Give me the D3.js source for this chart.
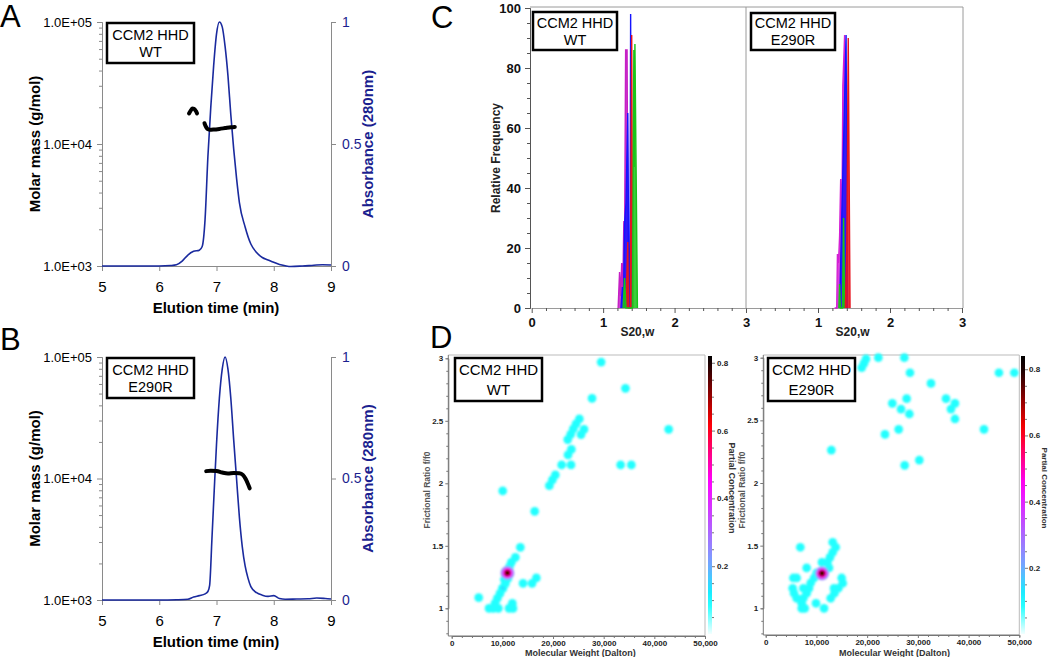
<!DOCTYPE html>
<html>
<head>
<meta charset="utf-8">
<script src="https://cdn.jsdelivr.net/npm/d3@7"></script>
<style>
  body { margin: 0; background: #fff; }
  svg { display: block; font-family: "Liberation Sans", Arial, sans-serif; }
</style>
</head>
<body>
<svg id="fig" width="1050" height="657"></svg>
<script>
// ---- panel A / B : SEC-MALS ----
const elutionTicks = [5, 6, 7, 8, 9];
const massTicks = [1e3, 1e4, 1e5];
const absTicks = [0, 0.5, 1];

// [time (min), absorbance]
const wtAbs = [[5,0],[5.5,0],[6,0],[6.2,0.002],[6.3,0.005],[6.4,0.02],[6.5,0.045],[6.6,0.06],[6.7,0.065],
  [6.75,0.08],[6.8,0.19],[6.85,0.45],[6.9,0.65],[6.95,0.82],[7.0,0.95],[7.05,1.0],[7.1,0.98],[7.15,0.9],
  [7.2,0.78],[7.25,0.62],[7.3,0.48],[7.35,0.36],[7.4,0.26],[7.5,0.16],[7.6,0.09],[7.7,0.055],[7.8,0.035],
  [7.9,0.025],[8.0,0.015],[8.1,0.006],[8.2,0.001],[8.3,-0.002],[8.5,0],[8.7,0.003],[8.85,0.005],[9,0.004]];
// [time (min), molar mass (g/mol)]
const wtMassA = [[6.52,17800],[6.55,18800],[6.58,19500],[6.61,19400],[6.64,18600],[6.66,17800]];
const wtMassB = [[6.79,14800],[6.81,14000],[6.84,13300],[6.88,13100],[6.95,13150],[7.05,13300],
  [7.15,13500],[7.25,13700],[7.32,13800]];

const mutAbs = [[5,0],[5.5,0],[6,0],[6.3,0.001],[6.5,0.003],[6.6,0.012],[6.7,0.018],[6.8,0.025],[6.85,0.035],
  [6.88,0.06],[6.92,0.25],[6.96,0.45],[7.0,0.64],[7.05,0.83],[7.1,0.95],[7.15,1.0],[7.2,0.95],[7.25,0.83],
  [7.3,0.66],[7.35,0.5],[7.4,0.34],[7.45,0.22],[7.5,0.14],[7.55,0.09],[7.6,0.055],[7.7,0.03],[7.8,0.02],
  [7.9,0.015],[8.0,0.018],[8.1,0.006],[8.2,0.003],[8.4,0.004],[8.6,0.005],[8.75,0.008],[8.9,0.006],[9,0.004]];
const mutMass = [[6.82,11500],[6.9,11600],[7.0,11550],[7.1,11200],[7.2,11000],[7.3,11100],[7.4,11050],
  [7.46,10700],[7.51,9900],[7.55,9000],[7.58,8300]];

// ---- panel C : sedimentation coefficient distributions ----
const freqTicks = [0, 20, 40, 60, 80, 100];
const sTicks = [0, 1, 2, 3];
// [s20,w, relative frequency]
const wtMagenta = [[1.21,0],[1.23,12],[1.245,4],[1.26,15],[1.275,6],[1.29,29],[1.30,20],[1.315,86],[1.335,86],[1.35,0]];
const wtBlue = [[1.25,0],[1.27,7],[1.285,3],[1.30,28],[1.32,35],[1.345,65],[1.36,10],[1.375,0],[1.385,98],[1.395,0]];
const wtRed = [[1.32,0],[1.345,22],[1.355,0],[1.38,0],[1.40,91],[1.415,0]];
const wtGreen = [[1.28,0],[1.30,10],[1.32,0],[1.41,0],[1.43,86],[1.435,47],[1.445,88],[1.48,0]];
const mutMagenta = [[1.23,0],[1.26,0],[1.27,18],[1.285,15],[1.30,24],[1.315,43],[1.33,20],[1.345,74],[1.37,91],[1.385,0]];
const mutBlue = [[1.30,0],[1.32,20],[1.345,45],[1.36,60],[1.39,91],[1.40,45],[1.41,0]];
const mutRed = [[1.38,0],[1.40,20],[1.42,90],[1.445,0]];
const mutGreen = [[1.29,0],[1.30,8],[1.31,0],[1.34,0],[1.355,30],[1.37,0]];

// ---- panel D : 2DSA solutes ----
const mwTicks = [0, 10000, 20000, 30000, 40000, 50000];
const ffTicks = [1, 1.5, 2, 2.5, 3];
const concTicks = [0.2, 0.4, 0.6, 0.8];
// [molecular weight, f/f0, partial concentration]
const wtSolutes = [[29500,2.97,0.05],[34300,2.76,0.05],[27700,2.68,0.05],[25200,2.515,0.05],[24540,2.475,0.05],
  [24000,2.435,0.05],[23490,2.392,0.05],[22900,2.35,0.05],[26120,2.432,0.05],[25530,2.39,0.05],[42830,2.432,0.05],
  [23620,2.272,0.05],[22960,2.227,0.05],[21710,2.147,0.05],[23550,2.147,0.05],[33350,2.147,0.05],[35460,2.147,0.05],
  [20460,2.067,0.05],[19870,2.027,0.05],[19280,1.981,0.05],[10070,1.939,0.05],[16380,1.776,0.05],[13550,1.488,0.05],
  [12570,1.408,0.05],[11780,1.368,0.06],[11380,1.331,0.07],[10590,1.197,0.06],[10070,1.16,0.15],[9540,1.12,0.05],
  [9010,1.08,0.05],[8550,1.04,0.05],[5330,1.085,0.05],[7370,1.0,0.05],[8220,1.0,0.05],[9210,1.0,0.05],
  [11320,1.0,0.05],[12100,1.0,0.05],[11970,1.04,0.05],[14080,1.2,0.05],[15860,1.2,0.05],[16710,1.243,0.05],
  [11100,1.24,0.06],[10400,1.23,0.06],[11000,1.283,0.82]];
const mutSolutes = [[18920,2.92,0.05],[19380,2.955,0.05],[19780,2.99,0.05],[22210,3.0,0.05],[27330,3.0,0.05],
  [28450,2.88,0.05],[32590,2.795,0.05],[45990,2.88,0.05],[49020,2.88,0.05],[24970,2.636,0.05],[26680,2.59,0.05],
  [27790,2.673,0.05],[28320,2.551,0.05],[35550,2.673,0.05],[36530,2.59,0.05],[37320,2.636,0.05],[37320,2.511,0.05],
  [26220,2.428,0.05],[23520,2.388,0.05],[43040,2.428,0.05],[12940,2.263,0.05],[30290,2.183,0.05],[27400,2.141,0.05],
  [13210,1.527,0.05],[13800,1.487,0.05],[6830,1.487,0.05],[13210,1.447,0.05],[12680,1.407,0.05],[12160,1.367,0.05],
  [11100,1.367,0.05],[8080,1.322,0.05],[12480,1.322,0.05],[10050,1.282,0.06],[9530,1.242,0.05],[8870,1.202,0.05],
  [5450,1.242,0.05],[6110,1.242,0.05],[8540,1.16,0.05],[7420,1.16,0.05],[5320,1.16,0.05],[8080,1.12,0.05],
  [7420,1.08,0.05],[7100,1.04,0.05],[7100,1.0,0.05],[7690,1.0,0.05],[6110,1.08,0.05],[5590,1.12,0.05],
  [9920,1.04,0.05],[11500,1.0,0.05],[12810,1.08,0.05],[13470,1.16,0.05],[14320,1.16,0.05],[14980,1.242,0.05],
  [15180,1.2,0.05],[13540,1.12,0.05],[11100,1.279,0.84]];

const svg = d3.select("#fig");
const FONT = '"Liberation Sans", Arial, sans-serif';
const NAVY = "#1b1f8f";
const AXIS_GREY = "#8a8a8a";

function styleAxis(g, lineColor, textColor, size, weight) {
  g.attr("font-family", FONT);
  g.select(".domain").attr("stroke", lineColor);
  g.selectAll(".tick line").attr("stroke", lineColor);
  g.selectAll(".tick text").attr("fill", textColor).style("font-size", size + "px").style("font-weight", weight);
}

function labelBox(x, y, w, h, lines, size, lead) {
  svg.append("rect").attr("x", x).attr("y", y).attr("width", w).attr("height", h)
    .attr("fill", "#fff").attr("stroke", "#000").attr("stroke-width", 2.5);
  lines.forEach((t, i) => {
    svg.append("text").attr("x", x + w / 2).attr("y", y + h / 2 + (i - (lines.length - 1) / 2) * size * lead + size * 0.36)
      .attr("text-anchor", "middle").style("font-size", size + "px").text(t);
  });
}

function panelLetter(t, x, y) {
  svg.append("text").attr("x", x).attr("y", y).style("font-size", "31px").text(t);
}

// ---------- SEC panels ----------
function secPanel(top, bottom, absData, massData, lines) {
  const x = d3.scaleLinear().domain([5, 9]).range([102, 331]);
  const yM = d3.scaleLog().domain([1e3, 1e5]).range([bottom, top]);
  const yA = d3.scaleLinear().domain([0, 1]).range([bottom, top]);

  const minor = [];
  [1e3, 1e4].forEach(d => { for (let k = 2; k <= 9; k++) minor.push(d * k); });
  svg.append("g").attr("transform", "translate(102,0)")
    .call(d3.axisLeft(yM).tickValues(minor).tickSize(3).tickFormat(""))
    .call(g => styleAxis(g, AXIS_GREY, "#000", 13, "normal"));

  const gl = svg.append("g").attr("transform", "translate(102,0)")
    .call(d3.axisLeft(yM).tickValues(massTicks).tickSize(5).tickSizeOuter(0).tickPadding(5)
      .tickFormat(d => "1.0E+" + String(Math.round(Math.log10(d))).padStart(2, "0")));
  styleAxis(gl, AXIS_GREY, "#000", 13, "normal");

  const gr = svg.append("g").attr("transform", "translate(331,0)")
    .call(d3.axisRight(yA).tickValues(absTicks).tickSize(5).tickSizeOuter(0).tickPadding(6).tickFormat(d3.format("")));
  styleAxis(gr, AXIS_GREY, NAVY, 14, "normal");

  const gb = svg.append("g").attr("transform", `translate(0,${bottom})`)
    .call(d3.axisBottom(x).tickValues(elutionTicks).tickSize(5).tickSizeOuter(0).tickPadding(10).tickFormat(d3.format("d")));
  styleAxis(gb, AXIS_GREY, "#000", 15, "normal");

  svg.append("path").datum(absData)
    .attr("fill", "none").attr("stroke", "#1a2a9e").attr("stroke-width", 1.6)
    .attr("d", d3.line().x(d => x(d[0])).y(d => yA(d[1])).curve(d3.curveMonotoneX));

  massData.forEach(seg => {
    svg.append("path").datum(seg)
      .attr("fill", "none").attr("stroke", "#000").attr("stroke-width", 4).attr("stroke-linecap", "round")
      .attr("d", d3.line().x(d => x(d[0])).y(d => yM(d[1])).curve(d3.curveMonotoneX));
  });

  const mid = (top + bottom) / 2;
  svg.append("text").attr("transform", `translate(40,${mid}) rotate(-90)`).attr("text-anchor", "middle")
    .style("font-size", "15px").style("font-weight", "bold").text("Molar mass (g/mol)");
  svg.append("text").attr("transform", `translate(373,${mid}) rotate(-90)`).attr("text-anchor", "middle")
    .attr("fill", NAVY).style("font-size", "15px").style("font-weight", "bold").text("Absorbance (280nm)");
  svg.append("text").attr("x", 216).attr("y", bottom + 47).attr("text-anchor", "middle")
    .style("font-size", "15px").style("font-weight", "bold").text("Elution time (min)");

  labelBox(107, top + 1, 87, 40, lines, 14.5, 1.15);
}

panelLetter("A", 0, 27);
secPanel(22, 266, wtAbs, [wtMassA, wtMassB], ["CCM2 HHD", "WT"]);
panelLetter("B", 0, 350);
secPanel(357, 600, mutAbs, [mutMass], ["CCM2 HHD", "E290R"]);

// ---------- panel C ----------
panelLetter("C", 431, 28);
(function () {
  const y = d3.scaleLinear().domain([0, 100]).range([308, 8]);
  const xL = d3.scaleLinear().domain([0, 3]).range([531.7, 746]);
  const xR = d3.scaleLinear().domain([0, 3]).range([746, 962]);
  const FRAME = "#9a9a9a";

  // frame
  svg.append("line").attr("x1", 530).attr("x2", 963).attr("y1", 7).attr("y2", 7).attr("stroke", FRAME);
  svg.append("line").attr("x1", 963).attr("x2", 963).attr("y1", 7).attr("y2", 308).attr("stroke", FRAME);
  svg.append("line").attr("x1", 746).attr("x2", 746).attr("y1", 7).attr("y2", 308).attr("stroke", FRAME);

  const minorS = d3.range(0, 3.001, 0.2).filter(d => Math.abs(d - Math.round(d)) > 0.01);
  [xL, xR].forEach((x, i) => {
    svg.append("g").attr("transform", "translate(0,308)")
      .call(d3.axisBottom(x).tickValues(minorS).tickSize(3).tickSizeOuter(0).tickFormat(""))
      .call(g => { styleAxis(g, "#555", "#000", 12, "bold"); g.select(".domain").attr("stroke", FRAME); });
    svg.append("g").attr("transform", "translate(0,308)")
      .call(d3.axisBottom(x).tickValues(i === 0 ? sTicks : sTicks.slice(1)).tickSize(5).tickSizeOuter(0).tickPadding(5).tickFormat(d3.format("d")))
      .call(g => { styleAxis(g, "#555", "#111", 13, "bold"); g.select(".domain").remove(); });
    svg.append("text").attr("x", x(1.48)).attr("y", 336).attr("text-anchor", "middle")
      .style("font-size", "12px").style("font-weight", "bold").attr("fill", "#222").text("S20,w");
  });

  svg.append("g").attr("transform", "translate(530,0)")
    .call(d3.axisLeft(y).tickValues(d3.range(0, 101, 5).filter(d => d % 20)).tickSize(3).tickFormat(""))
    .call(g => styleAxis(g, "#555", "#000", 12, "bold"));
  svg.append("g").attr("transform", "translate(530,0)")
    .call(d3.axisLeft(y).tickValues(freqTicks).tickSize(5).tickSizeOuter(0).tickPadding(4))
    .call(g => styleAxis(g, "#555", "#111", 13, "bold"));
  svg.append("text").attr("transform", "translate(500,158) rotate(-90)").attr("text-anchor", "middle")
    .style("font-size", "12px").style("font-weight", "bold").attr("fill", "#222").text("Relative Frequency");

  const series = [
    [xL, wtMagenta, "#c51fc5"], [xL, wtBlue, "#1414ff"], [xL, wtRed, "#e8141e"], [xL, wtGreen, "#19c419"],
    [xR, mutMagenta, "#d41fd4"], [xR, mutBlue, "#1414ff"], [xR, mutGreen, "#19c419"], [xR, mutRed, "#e8141e"]
  ];
  series.forEach(([x, data, col]) => {
    svg.append("path").datum(data)
      .attr("fill", col).attr("fill-opacity", 0.85).attr("stroke", col).attr("stroke-width", 1.4)
      .attr("d", d3.line().x(d => x(d[0])).y(d => y(d[1])));
  });

  labelBox(533, 12, 84, 38, ["CCM2 HHD", "WT"], 14.5, 1.15);
  labelBox(751, 13, 84, 37, ["CCM2 HHD", "E290R"], 14.5, 1.15);
})();

// ---------- panel D ----------
panelLetter("D", 430, 348);
const defs = svg.append("defs");
defs.append("filter").attr("id", "glow").attr("x", "-50%").attr("y", "-50%").attr("width", "200%").attr("height", "200%")
  .append("feGaussianBlur").attr("stdDeviation", 1.1);

const concColor = d3.scaleLinear()
  .domain([0, 0.1, 0.22, 0.45, 0.62, 0.82])
  .range(["#f2ffff", "#00ffff", "#7f9cff", "#ff00ff", "#ff0000", "#000000"]);

function soluteMap(o) {
  const x = d3.scaleLinear().domain([0, 50000]).range([o.x0, o.x1]);
  const y = d3.scaleLinear().domain([1, 3]).range([608.3, o.y3]);
  const FRAME = "#bbbbbb";

  svg.append("line").attr("x1", o.axX).attr("x2", o.x1).attr("y1", 355).attr("y2", 355).attr("stroke", FRAME);
  svg.append("line").attr("x1", o.x1).attr("x2", o.x1).attr("y1", 355).attr("y2", o.axY).attr("stroke", FRAME);

  // minor + major ticks
  svg.append("g").attr("transform", `translate(0,${o.axY})`)
    .call(d3.axisBottom(x).tickValues(d3.range(0, 50001, 2000).filter(d => d % 10000)).tickSize(2).tickFormat(""))
    .call(g => styleAxis(g, "#777", "#000", 8, "bold"));
  const gx = svg.append("g").attr("transform", `translate(0,${o.axY})`)
    .call(d3.axisBottom(x).tickValues(mwTicks).tickSize(3).tickSizeOuter(0).tickPadding(1).tickFormat(d3.format(",")));
  styleAxis(gx, "#777", "#222", 8, "bold");
  gx.select(".domain").attr("d", `M${o.axX},0H${o.x1}`);

  svg.append("g").attr("transform", `translate(${o.axX},0)`)
    .call(d3.axisLeft(y).tickValues(d3.range(0.8, 3.01, 0.1).filter(d => Math.abs(d * 2 - Math.round(d * 2)) > 0.01)).tickSize(2).tickFormat(""))
    .call(g => styleAxis(g, "#777", "#000", 8, "bold"));
  const gy = svg.append("g").attr("transform", `translate(${o.axX},0)`)
    .call(d3.axisLeft(y).tickValues(ffTicks).tickSize(3).tickSizeOuter(0).tickPadding(2).tickFormat(d => String(d)));
  styleAxis(gy, "#777", "#222", 8, "bold");
  gy.select(".domain").attr("d", `M0,355V${o.axY}`);

  svg.append("text").attr("transform", `translate(${o.yLabX},490) rotate(-90)`).attr("text-anchor", "middle")
    .attr("fill", "#555").style("font-size", "8.5px").style("font-weight", "bold").text("Frictional Ratio f/f0");
  svg.append("text").attr("x", (o.x0 + o.x1) / 2 + 2).attr("y", 656).attr("text-anchor", "middle")
    .attr("fill", "#333").style("font-size", "9px").style("font-weight", "bold").text("Molecular Weight (Dalton)");

  // solutes
  const ringK = [0.3, 0.55, 0.8, 1];
  const ringR = [1, 0.75, 0.5, 0.3];
  const gp = svg.append("g").attr("filter", "url(#glow)");
  o.data.forEach(([mw, ff, c]) => {
    const r0 = 4.2 + 3.2 * c;
    ringK.forEach((k, i) => {
      gp.append("circle").attr("cx", x(mw)).attr("cy", y(ff)).attr("r", r0 * ringR[i])
        .attr("fill", concColor(Math.max(0.085, k * c)));
    });
  });

  // colour bar
  const cb = d3.scaleLinear().domain([0, o.cMax]).range([634, 356]);
  const gid = "cbar" + Math.round(o.x0);
  const lg = defs.append("linearGradient").attr("id", gid).attr("x1", 0).attr("x2", 0).attr("y1", 1).attr("y2", 0);
  d3.range(0, 1.0001, 0.05).forEach(t => {
    lg.append("stop").attr("offset", t).attr("stop-color", concColor(t * o.cMax));
  });
  svg.append("rect").attr("x", o.cbX).attr("y", 356).attr("width", 4).attr("height", 278).attr("fill", `url(#${gid})`);
  svg.append("g").attr("transform", `translate(${o.cbX + 4},0)`)
    .call(d3.axisRight(cb).tickValues(d3.range(0.05, o.cMax, 0.05).filter(d => Math.abs(d * 5 - Math.round(d * 5)) > 0.01)).tickSize(2).tickFormat(""))
    .call(g => { styleAxis(g, "#777", "#000", 8, "bold"); g.select(".domain").remove(); });
  svg.append("g").attr("transform", `translate(${o.cbX + 4},0)`)
    .call(d3.axisRight(cb).tickValues(concTicks).tickSize(3).tickPadding(o.cbPad).tickFormat(d3.format(".1f")))
    .call(g => { styleAxis(g, "#777", "#222", 8, "bold"); g.select(".domain").remove(); });
  svg.append("text").attr("transform", `translate(${o.cbLabX},488) rotate(90)`).attr("text-anchor", "middle")
    .attr("fill", "#333").style("font-size", o.cbLabSize + "px").style("font-weight", "bold").text("Partial Concentration");

  labelBox(o.boxX, 358, 87, 43, o.lines, 15, 1.3);
}

soluteMap({ x0: 451.7, x1: 705, y3: 358.3, axX: 448.3, axY: 636, yLabX: 430, cbX: 708, cbPad: 2, cbLabX: 729, cbLabSize: 9, cMax: 0.82,
  data: wtSolutes, lines: ["CCM2 HHD", "WT"], boxX: 455 });
soluteMap({ x0: 765.7, x1: 1019.3, y3: 357.7, axX: 763.3, axY: 635, yLabX: 745, cbX: 1021, cbPad: 1, cbLabX: 1041.5, cbLabSize: 8, cMax: 0.84,
  data: mutSolutes, lines: ["CCM2 HHD", "E290R"], boxX: 768 });
</script>
</body>
</html>
